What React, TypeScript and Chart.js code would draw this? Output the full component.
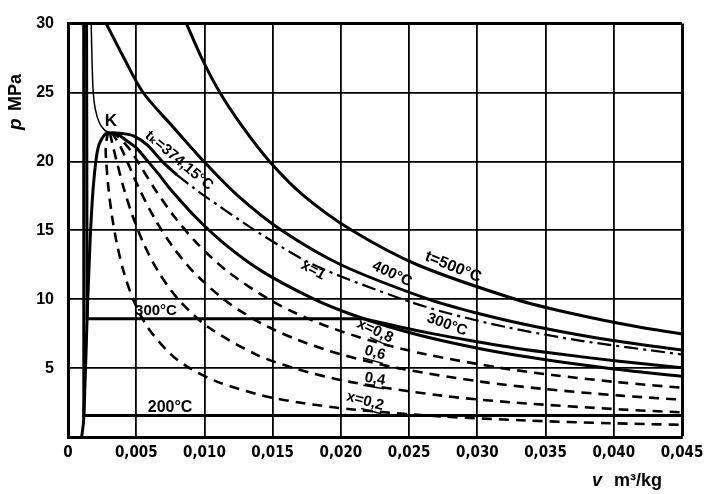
import { useEffect, useRef } from 'react';
import { Chart, registerables } from 'chart.js';

Chart.register(...registerables);

// ---- axis ticks ----
const xTicks = [0, 0.005, 0.01, 0.015, 0.02, 0.025, 0.03, 0.035, 0.04, 0.045];
const yTicks = [5, 10, 15, 20, 25, 30];

// ---- saturation boundary x = 0 (liquid) ----
const x0V = [0.00311, 0.00275, 0.0024, 0.00221, 0.00204, 0.00184, 0.00171, 0.00161, 0.00153, 0.00145, 0.00138, 0.00132, 0.00125, 0.00118, 0.00113, 0.001];
const x0P = [22.064, 22.0, 21.5, 21, 20, 18, 16, 14, 12, 10, 8, 6, 4, 2, 1, 0];

// ---- saturation boundary x = 1 (vapour) ----
const x1V = [0.00311, 0.0036, 0.0043, 0.00499, 0.00586, 0.0067, 0.00749, 0.00931, 0.01149, 0.01426, 0.01803, 0.02048, 0.02352, 0.02737, 0.03244, 0.03944, 0.04406, 0.04978];
const x1P = [22.064, 22.0, 21.5, 21, 20, 19, 18, 16, 14, 12, 10, 9, 8, 7, 6, 5, 4.5, 4];

// ---- dryness lines ----
const x08V = [0.00311, 0.00343, 0.00443, 0.0051, 0.00636, 0.00779, 0.00951, 0.01171, 0.01471, 0.01667, 0.01909, 0.02217, 0.02622, 0.03181, 0.0355, 0.04007, 0.0459, 0.05017];
const x08P = [22.064, 22, 21, 20, 18, 16, 14, 12, 10, 9, 8, 7, 6, 5, 4.5, 4, 3.5, 3.2];

const x06V = [0.00311, 0.00326, 0.00388, 0.00433, 0.00523, 0.00627, 0.00754, 0.00917, 0.0114, 0.01286, 0.01466, 0.01696, 0.01999, 0.02418, 0.03037, 0.03474, 0.0405, 0.04847];
const x06P = [22.064, 22, 21, 20, 18, 16, 14, 12, 10, 9, 8, 7, 6, 5, 4, 3.5, 3, 2.5];

const x04V = [0.00311, 0.00309, 0.00332, 0.00357, 0.0041, 0.00475, 0.00556, 0.00662, 0.00808, 0.01024, 0.01377, 0.01655, 0.02066, 0.0274, 0.03271, 0.04056, 0.04486, 0.0534];
const x04P = [22.064, 22, 21, 20, 18, 16, 14, 12, 10, 8, 6, 5, 4, 3, 2.5, 2, 1.8, 1.5];

const x02V = [0.00311, 0.00292, 0.00277, 0.0028, 0.00297, 0.00323, 0.00359, 0.00408, 0.00477, 0.00581, 0.00754, 0.00892, 0.01096, 0.01431, 0.01696, 0.02087, 0.02727, 0.03358, 0.03979, 0.04897];
const x02P = [22.064, 22, 21, 20, 18, 16, 14, 12, 10, 8, 6, 5, 4, 3, 2.5, 2, 1.5, 1.2, 1, 0.8];

// ---- isotherms ----
const t500V = [0.00868, 0.0098, 0.01113, 0.0128, 0.01477, 0.01729, 0.0208, 0.0256, 0.03279, 0.03677, 0.04175, 0.04814];
const t500P = [30, 27.5, 25, 22.5, 20, 17.5, 15, 12.5, 10, 9, 8, 7];

const t400V = [0.0028, 0.0041, 0.0055, 0.0077, 0.00995, 0.01246, 0.01565, 0.02, 0.02641, 0.02993, 0.03432, 0.03993, 0.04739];
const t400P = [30, 27.5, 25, 22.5, 20, 17.5, 15, 12.5, 10, 9, 8, 7, 6];

// critical isotherm 374.15 °C
const tkLiqV = [0.0017, 0.00177, 0.00185, 0.002, 0.0023, 0.0027, 0.00311];
const tkLiqP = [30, 27, 25, 23.8, 22.8, 22.25, 22.064];
const tkNearV = [0.00311, 0.004, 0.0048, 0.0058, 0.0069, 0.008];
const tkNearP = [22.064, 22.02, 21.85, 21.2, 20.0, 19.0];
const tkVapV = [0.008, 0.0093, 0.01, 0.0137, 0.018, 0.0245, 0.0278, 0.032, 0.0375, 0.0449, 0.047];
const tkVapP = [19.0, 18, 17.5, 15, 12.5, 10, 9, 8, 7, 6, 5.75];

const t300SatV = [0.00136, 0.0014, 0.02167];
const t300SatP = [30, 8.59, 8.59];
const t300VapV = [0.02167, 0.02426, 0.0267, 0.02947, 0.0325, 0.03616, 0.0404, 0.04532];
const t300VapP = [8.59, 8, 7.5, 7, 6.5, 6, 5.5, 5];

const t200V = [0.00115, 0.00116, 0.05];
const t200P = [30, 1.554, 1.554];

// ---- curve labels ----
const labelTexts = ['K', 'tₖ=374,15°C', 't=500°C', '400°C', 'x=1', '300°C', 'x=0,8', '0,6', '0,4', 'x=0,2', '300°C', '200°C'];
const labelV = [0.00315, 0.00814, 0.02822, 0.02375, 0.01796, 0.02778, 0.0225, 0.0225, 0.0225, 0.02177, 0.00645, 0.00748];
const labelP = [22.9, 20.05, 12.33, 11.83, 12.1, 8.15, 7.7, 6.1, 4.2, 2.6, 9.16, 2.16];
const labelAngle = [0, 40, 22, 25, 28, 20, 25, 15, 10, 15, 0, 0];
const labelSize = [17, 15, 16, 15, 15, 15, 15, 15, 15, 15, 15, 16];
const labelUnderline = [false, false, false, false, false, false, true, true, true, true, false, false];

const FONT = "'Liberation Sans Narrow', 'DejaVu Sans Condensed', 'Liberation Sans', sans-serif";
const FONT_W = "'Liberation Sans', 'DejaVu Sans', sans-serif";

const pts = (v: number[], p: number[]) => v.map((vv, i) => ({ x: vv, y: p[i] }));

const solid = (label: string, v: number[], p: number[], width = 3, tension = 0.3) => ({
  label,
  data: pts(v, p),
  showLine: true,
  borderColor: '#000',
  borderWidth: width,
  pointRadius: 0,
  tension,
  fill: false,
});

const dashed = (label: string, v: number[], p: number[]) => ({
  ...solid(label, v, p, 2.6, 0.3),
  borderDash: [10, 7],
});

const labelPlugin = {
  id: 'labels',
  afterDatasetsDraw(chart: any) {
    const { ctx } = chart;
    const xs = chart.scales.x;
    const ys = chart.scales.y;
    ctx.save();
    ctx.fillStyle = '#000';
    ctx.strokeStyle = '#000';
    labelTexts.forEach((t, i) => {
      const px = xs.getPixelForValue(labelV[i]);
      const py = ys.getPixelForValue(labelP[i]);
      ctx.save();
      ctx.translate(px, py);
      ctx.rotate((labelAngle[i] * Math.PI) / 180);
      ctx.font = `bold ${labelSize[i]}px ${FONT_W}`;
      ctx.textAlign = 'center';
      ctx.textBaseline = 'middle';
      ctx.fillText(t, 0, 0);
      if (labelUnderline[i]) {
        const w = ctx.measureText(t).width;
        const uw = ctx.measureText(t.startsWith('x=') ? t.slice(2) : t).width;
        ctx.lineWidth = 1.5;
        ctx.beginPath();
        ctx.moveTo(w / 2 - uw, 8);
        ctx.lineTo(w / 2, 8);
        ctx.stroke();
      }
      ctx.restore();
    });
    // axis titles
    ctx.save();
    ctx.translate(16, 101);
    ctx.rotate(-Math.PI / 2);
    ctx.textBaseline = 'middle';
    ctx.textAlign = 'left';
    ctx.font = `italic bold 19px ${FONT_W}`;
    ctx.fillText('p', -29, 0);
    ctx.font = `bold 18px ${FONT_W}`;
    ctx.fillText('MPa', -10, 0);
    ctx.restore();
    ctx.font = `italic bold 18px ${FONT_W}`;
    ctx.textAlign = 'left';
    ctx.textBaseline = 'alphabetic';
    ctx.fillText('v', 592, 486);
    ctx.font = `bold 18px ${FONT_W}`;
    ctx.fillText('m³/kg', 614, 486);
    ctx.restore();
  },
};

export default function App() {
  const ref = useRef<HTMLCanvasElement>(null);
  useEffect(() => {
    if (!ref.current) return;
    const chart = new Chart(ref.current, {
      type: 'scatter',
      data: {
        datasets: [
          solid('x=0', x0V, x0P, 3, 0.25),
          solid('x=1', x1V, x1P, 3, 0.25),
          dashed('x=0.8', x08V, x08P),
          dashed('x=0.6', x06V, x06P),
          dashed('x=0.4', x04V, x04P),
          dashed('x=0.2', x02V, x02P),
          solid('500', t500V, t500P, 3),
          solid('400', t400V, t400P, 3),
          solid('tk liquid', tkLiqV, tkLiqP, 1.5, 0.3),
          solid('tk near', tkNearV, tkNearP, 3, 0.3),
          { ...solid('tk vapour', tkVapV, tkVapP, 2.2, 0.3), borderDash: [14, 5, 3, 5] },
          solid('300 sat', t300SatV, t300SatP, 3, 0),
          solid('300 vap', t300VapV, t300VapP, 3, 0.3),
          solid('200', t200V, t200P, 3, 0),
        ] as any,
      },
      options: {
        responsive: false,
        animation: false,
        devicePixelRatio: 1,
        layout: { padding: { left: 0, right: 29, top: 21, bottom: 0 } },
        plugins: { legend: { display: false }, tooltip: { enabled: false }, title: { display: false } },
        scales: {
          x: {
            type: 'linear',
            min: 0,
            max: 0.045,
            afterBuildTicks: (s: any) => {
              s.ticks = xTicks.map((v) => ({ value: v }));
            },
            afterFit: (s: any) => {
              s.height = 57;
            },
            ticks: {
              autoSkip: false,
              maxRotation: 0,
              padding: 7,
              color: '#000',
              font: { family: FONT, size: 15, weight: 'bold' },
              callback: (v: any) => (v === 0 ? '0' : Number(v).toFixed(3).replace('.', ',')),
            },
            grid: { color: '#000', lineWidth: (c: any) => (c.tick && c.tick.value === 0.045 ? 3 : 1.8), drawTicks: false },
            border: { color: '#000', width: 3 },
          },
          y: {
            type: 'linear',
            min: 0,
            max: 30,
            afterBuildTicks: (s: any) => {
              s.ticks = [0, ...yTicks].map((v) => ({ value: v }));
            },
            afterFit: (s: any) => {
              s.width = 68;
            },
            ticks: {
              padding: 14,
              color: '#000',
              font: { family: FONT_W, size: 16, weight: 'bold' },
              callback: (v: any) => (v === 0 ? '' : String(v)),
            },
            grid: { color: '#000', lineWidth: (c: any) => (c.tick && c.tick.value === 30 ? 3 : 1.8), drawTicks: false },
            border: { color: '#000', width: 3 },
          },
        },
      },
      plugins: [labelPlugin],
    } as any);
    return () => chart.destroy();
  }, []);
  return (
    <div style={{ position: 'absolute', left: 0, top: 0, width: 711, height: 494, background: '#fff' }}>
      <canvas ref={ref} width={711} height={494} style={{ display: 'block' }} />
    </div>
  );
}
